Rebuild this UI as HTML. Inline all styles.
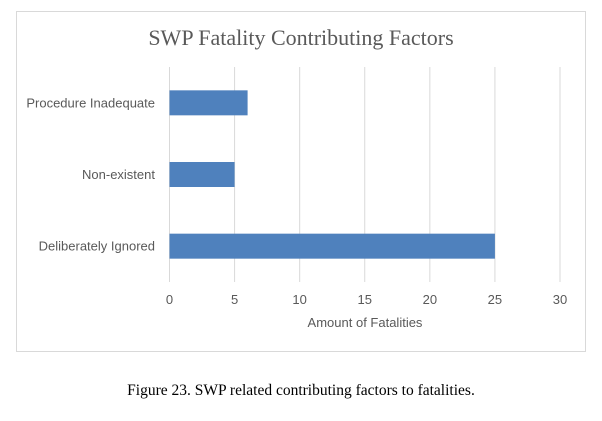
<!DOCTYPE html>
<html><head><meta charset="utf-8"><style>
body{margin:0;background:#fff;width:602px;height:421px;overflow:hidden;}
svg{display:block}
</style></head><body>
<svg width="602" height="421">
<rect x="16.5" y="11.5" width="569" height="340" fill="#fff" stroke="#d9d9d9"/>
<text x="301" y="45" text-anchor="middle" font-family="Liberation Serif, serif" font-size="22" fill="#595959">SWP Fatality Contributing Factors</text>
<g id="grid"></g><g id="bars"></g><g id="ylabels"></g><g id="xticks"></g>
<text x="365" y="327" text-anchor="middle" font-family="Liberation Sans, sans-serif" font-size="13" fill="#595959">Amount of Fatalities</text>
<text x="301" y="395" text-anchor="middle" font-family="Liberation Serif, serif" font-size="15.5" fill="#000">Figure 23. SWP related contributing factors to fatalities.</text>
</svg>
<script>
const categories=["Procedure Inadequate","Non-existent","Deliberately Ignored"];
const values=[6,5,25];
const ticks=[0,5,10,15,20,25,30];
const NS="http://www.w3.org/2000/svg";
const x0=169.5,x1=560,yTop=67,yBot=282,xMax=30;
const xs=v=>x0+(x1-x0)*v/xMax;
const band=(yBot-yTop)/categories.length;
const ys=i=>yTop+band*(i+0.5);
function mk(t,a,p){const e=document.createElementNS(NS,t);for(const k in a)e.setAttribute(k,a[k]);document.getElementById(p).appendChild(e);return e;}
ticks.forEach(t=>{
 const l=mk('line',{x1:xs(t),x2:xs(t),y1:yTop,y2:yBot,stroke:'#d9d9d9','stroke-width':1},'grid');
 
 
 const tx=mk('text',{x:xs(t),y:304,'text-anchor':'middle','font-family':'Liberation Sans, sans-serif','font-size':'13',fill:'#595959'},'xticks');
 tx.textContent=t;
 
 
});
categories.forEach((c,i)=>{
 const b=mk('rect',{x:x0,y:ys(i)-12.5,width:xs(values[i])-x0,height:25,fill:'#4f81bd'},'bars');
 
 
 const t=mk('text',{x:155,y:ys(i)+4.5,'text-anchor':'end','font-family':'Liberation Sans, sans-serif','font-size':'13',fill:'#595959'},'ylabels');
 t.textContent=c;
 
 
});
</script>
</body></html>
